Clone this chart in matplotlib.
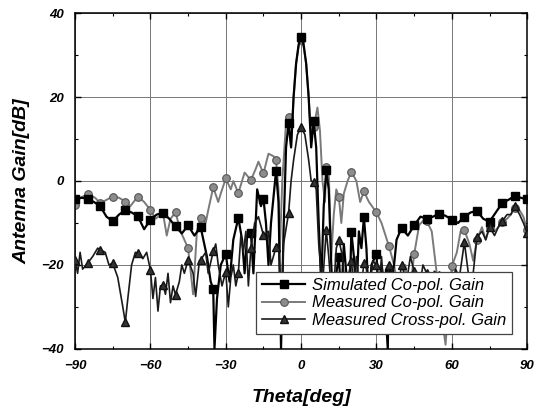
import numpy as np
import matplotlib
matplotlib.use("Agg")
import matplotlib.pyplot as plt
from matplotlib.ticker import MultipleLocator

# ---- data ----
sim_theta = [-90, -87.5, -85, -82.5, -80, -77.5, -75, -72.5, -70, -67.5, -65, -62.5, -60, -57.5, -55,
             -52.5, -50, -47.5, -45, -42.5, -40, -37.5, -36, -35, -34.5, -33.5, -32, -30, -28.5, -27,
             -25, -23.5, -22.5, -21.5, -20, -19, -17.5, -16, -15, -14, -13, -12, -10, -9, -8, -7, -6,
             -5, -4, -3, -2, -1, 0, 1, 2, 3, 4, 5, 6, 7, 8, 9, 10, 11, 12, 13, 14, 15, 16, 17, 18,
             19, 20, 21, 22, 23, 24, 25, 26, 27, 28, 30, 31, 32, 33, 34.5, 35, 35.5, 37, 38, 40, 42.5,
             45, 47.5, 50, 52.5, 55, 57.5, 60, 62.5, 65, 67.5, 70, 72.5, 75, 77.5, 80, 82.5, 85, 87.5, 90]
sim_gain = [-4.4, -4.0, -4.2, -5.0, -6.0, -8.5, -9.6, -8.0, -7.0, -7.5, -8.4, -11.5, -9.2, -8.0, -7.6,
            -9.0, -10.8, -12.5, -10.6, -13.0, -11.0, -18.0, -24.0, -25.7, -40.0, -28.0, -20.0, -17.4, -24.0, -14.0,
            -8.8, -14.0, -22.0, -13.0, -12.3, -22.0, -2.0, -6.0, -4.2, -10.0, -20.0, -10.0, 2.3, -5.0, -40.0, -12.0, 8.0,
            13.8, 8.0, 20.0, 28.0, 32.5, 34.2, 32.5, 28.0, 20.0, 8.0, 14.2, 8.0, -10.0, -25.0, -6.0, 2.5, -2.0, -20.0, -32.0, -22.0, -18.0, -28.0, -15.0, -22.0,
            -35.0, -12.1, -18.0, -28.0, -12.0, -16.0, -8.7, -16.0, -30.0, -20.0, -17.4, -28.0, -20.0, -25.0, -40.0, -22.0, -24.0, -20.0, -14.0, -11.2, -13.0,
            -10.6, -8.5, -9.0, -8.5, -7.8, -8.3, -9.2, -10.0, -8.5, -7.5, -7.1, -9.0, -9.7, -7.5, -5.3, -4.5, -3.6, -4.0, -4.4]

mco_theta = [-90, -88, -85, -82, -80, -77.5, -75, -72.5, -70, -68, -65, -62.5, -60, -58, -55, -53.5, -52,
             -50, -48, -45, -43, -41.5, -40, -38, -37, -35, -33, -32, -30, -28, -27, -25, -22.5, -20, -18,
             -17, -15, -13, -11, -10, -9, -8.5, -7.5, -6, -5, -4, -3, -2, -1, 0, 1, 2, 3, 4, 5, 6.5,
             7.5, 8.5, 9.5, 10, 11, 12, 13, 14, 15, 16, 17, 18.5, 20, 22, 23.5, 25, 27, 30, 32, 35, 37, 39,
             40, 41.5, 43, 45, 47, 49, 50, 52, 54, 55, 57.5, 59, 60, 62, 63.5, 65, 67, 68.5, 70, 72, 73.5,
             75, 77, 78.5, 80, 82, 83.5, 85, 87, 88.5, 90]
mco_gain = [-5.7, -4.0, -3.2, -4.0, -5.3, -4.5, -3.7, -4.0, -4.9, -6.0, -3.7, -5.0, -6.9, -9.0, -7.7, -13.0, -9.0,
            -7.5, -12.0, -16.0, -27.0, -12.0, -8.9, -10.0, -7.0, -1.5, -5.0, -3.0, 0.6, -2.0, 0.0, -2.9, 2.0, 0.2, 3.0,
            4.6, 1.8, 6.5, 5.9, 5.0, -2.0, -17.0, 0.0, 14.0, 15.3, 8.0, 20.0, 28.0, 32.0, 33.6, 32.0, 28.0, 20.0, 10.0, 12.9, 17.5,
            12.0, 0.0, -5.0, 3.4, 2.0, -18.0, -8.0, -2.0, -3.7, -10.0, -3.0, 0.0, 2.2, 0.0, -5.0, -2.5, -5.0, -7.5, -10.0, -15.6, -20.0, -27.0,
            -24.0, -20.0, -28.0, -17.5, -10.5, -9.2, -9.5, -12.0, -22.0, -28.0, -39.0, -27.0, -20.3, -17.0, -12.0, -11.7, -15.0, -19.0, -14.0, -11.0, -14.0,
            -11.0, -12.0, -11.0, -9.7, -9.0, -8.0, -6.5, -7.0, -8.5, -11.7]

xp_theta = [-90, -89, -88, -87, -85, -83, -81, -80, -78, -76.5, -75, -73, -71, -70, -69, -67.5, -66, -65,
            -63, -61.5, -60, -59, -58, -57, -56, -55, -54, -53, -52, -51, -50, -48.5, -47.5, -46.5, -45,
            -43, -42, -40.5, -40, -38, -37, -35, -34, -33, -31.5, -30, -29, -28, -27, -26, -25, -24, -23,
            -22, -21, -20, -18.5, -17, -15, -13, -12, -10, -9, -8, -7, -5, -4, -3, -1.5, 0, 1.5, 3, 4, 5,
            6, 7, 8.5, 10, 11, 12.5, 14, 15, 16.5, 18, 19, 20, 21, 22, 23.5, 25, 26, 27, 28.5, 30, 31, 32,
            33.5, 35, 36.5, 38, 40, 42, 43.5, 45, 47, 48.5, 50, 52, 53, 55, 57, 59, 60, 61.5, 63, 65, 67,
            68.5, 70, 72, 73.5, 75, 77, 78.5, 80, 82, 83.5, 85, 87, 88.5, 90]
xp_gain = [-18.8, -22.0, -17.0, -21.0, -19.6, -18.0, -16.0, -16.4, -17.0, -20.0, -19.6, -23.0, -30.0, -33.7, -28.0, -20.0, -17.0, -17.2,
           -18.5, -17.0, -21.2, -28.0, -23.0, -31.0, -25.0, -24.8, -27.0, -22.0, -29.0, -25.0, -27.1, -24.0, -20.0, -22.0, -18.8,
           -22.0, -27.5, -19.0, -18.8, -17.0, -22.0, -16.8, -15.0, -20.0, -25.0, -21.6, -30.0, -23.0, -20.0, -25.0, -22.0, -13.0, -17.0,
           -12.0, -25.0, -16.0, -10.0, -8.5, -12.9, -12.0, -20.0, -15.8, -15.0, -30.0, -15.0, -7.7, 0.0, 5.0, 11.0, 12.9, 11.0, 5.0, 0.0, -0.2,
           -2.0, -15.0, -25.0, -11.7, -18.0, -30.0, -16.0, -14.0, -18.0, -30.0, -22.0, -19.0, -25.0, -18.0, -28.0, -19.5, -21.0, -28.0, -19.0, -20.0, -26.0, -18.0,
           -30.0, -20.0, -22.0, -28.0, -20.0, -24.0, -18.0, -21.5, -26.0, -20.0, -22.0, -28.0, -21.5, -22.5, -30.0, -26.0, -25.0, -21.0, -23.0, -14.6, -24.0,
           -22.0, -13.4, -12.0, -14.0, -10.9, -13.0, -11.0, -9.6, -8.0, -8.0, -5.9, -8.0, -10.0, -12.4]

labels = ["Simulated Co-pol. Gain", "Measured Co-pol. Gain", "Measured Cross-pol. Gain"]
xticks = [-90, -60, -30, 0, 30, 60, 90]
yticks = [-40, -20, 0, 20, 40]

assert len(sim_theta) == len(sim_gain)
assert len(mco_theta) == len(mco_gain)
assert len(xp_theta) == len(xp_gain)


def mark_idx(th):
    return [i for i, t in enumerate(th) if abs(t / 5 - round(t / 5)) < 1e-9]


plt.rcParams['font.family'] = ['Liberation Sans', 'DejaVu Sans']

fig = plt.figure(figsize=(5.48, 4.09), dpi=100)
ax = fig.add_axes([0.137, 0.147, 0.825, 0.821])

ax.plot(sim_theta, sim_gain, color='black', lw=1.6, marker='s', ms=5.5,
        mfc='black', mec='black', markevery=mark_idx(sim_theta), label=labels[0], zorder=3)
ax.plot(mco_theta, mco_gain, color='#7a7a7a', lw=1.4, marker='o', ms=5.5,
        mfc='#8c8c8c', mec='#555555', mew=0.8, markevery=mark_idx(mco_theta), label=labels[1], zorder=2)
ax.plot(xp_theta, xp_gain, color='#1a1a1a', lw=1.2, marker='^', ms=6,
        mfc='#333333', mec='#111111', markevery=mark_idx(xp_theta), label=labels[2], zorder=4)

ax.set_xlim(-90, 90)
ax.set_ylim(-40, 40)
ax.set_xticks(xticks)
ax.set_yticks(yticks)
ax.xaxis.set_minor_locator(MultipleLocator(15))
ax.yaxis.set_minor_locator(MultipleLocator(10))
ax.tick_params(which='both', direction='in', top=True, right=True)
ax.tick_params(which='major', length=4, width=1, pad=8)
ax.tick_params(which='minor', length=2.5, width=0.8)
ax.grid(True, which='major', color='#777777', lw=0.7)
ax.set_axisbelow(True)
for s in ax.spines.values():
    s.set_linewidth(1.1)

for lab in ax.get_xticklabels() + ax.get_yticklabels():
    lab.set_fontweight('bold')
    lab.set_fontstyle('italic')
    lab.set_fontsize(9.5)

ax.set_xlabel("Theta[deg]", fontsize=14, fontweight='bold', fontstyle='italic', labelpad=12)
ax.set_ylabel("Antenna Gain[dB]", fontsize=14, fontweight='bold', fontstyle='italic', labelpad=8)

leg = ax.legend(loc='lower right', bbox_to_anchor=(0.985, 0.02), fancybox=False, framealpha=1,
                edgecolor='#444444', handlelength=2.6, handletextpad=0.4, borderpad=0.35,
                labelspacing=0.15, prop={'style': 'italic', 'size': 12})
leg.get_frame().set_linewidth(0.9)

fig.savefig("out.png", dpi=100)
